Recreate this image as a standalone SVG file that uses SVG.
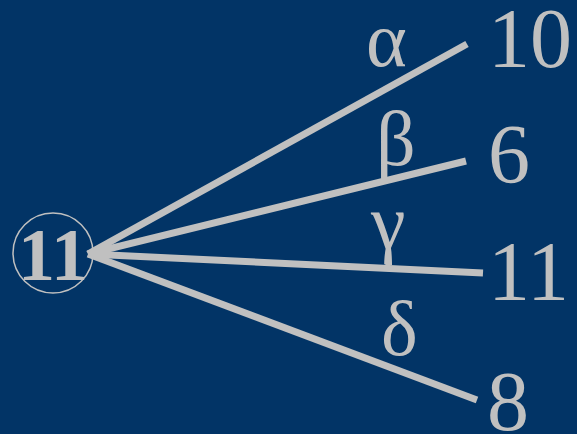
<svg xmlns="http://www.w3.org/2000/svg" width="577" height="434" viewBox="0 0 577 434">
<style>
.bg{fill:#023466}
.edge{stroke:#c0c0c0;stroke-width:7;fill:none;stroke-linecap:butt}
text{font-family:'Liberation Serif',serif;fill:#c0c0c0}
.lbl{font-size:84px}
.gk{font-size:78px}
.root{font-size:74px;font-weight:bold}
</style>
<rect class="bg" x="0" y="0" width="577" height="434"/>
<g id="connectors">
<line class="edge" x1="88" y1="254" x2="467" y2="44"/>
<line class="edge" x1="88" y1="254" x2="466" y2="161"/>
<line class="edge" x1="88" y1="254" x2="483" y2="273"/>
<line class="edge" x1="88" y1="254" x2="477" y2="400"/>
<text class="gk" x="366" y="66">α</text>
<text class="gk" x="376" y="165">β</text>
<text class="gk" x="371" y="248">γ</text>
<text class="gk" x="381" y="355">δ</text>
</g>
<g id="root">
<circle cx="53" cy="253" r="40" fill="none" stroke="#c0c0c0" stroke-width="1.5"/>
<text class="root" x="53" y="280" text-anchor="middle">11</text>
</g>
<g id="n10"><text class="lbl" x="488" y="67">10</text></g>
<g id="n6"><text class="lbl" x="488" y="183">6</text></g>
<g id="n11"><text class="lbl" x="488" y="300">11</text></g>
<g id="n8"><text class="lbl" x="487" y="430">8</text></g>
</svg>
